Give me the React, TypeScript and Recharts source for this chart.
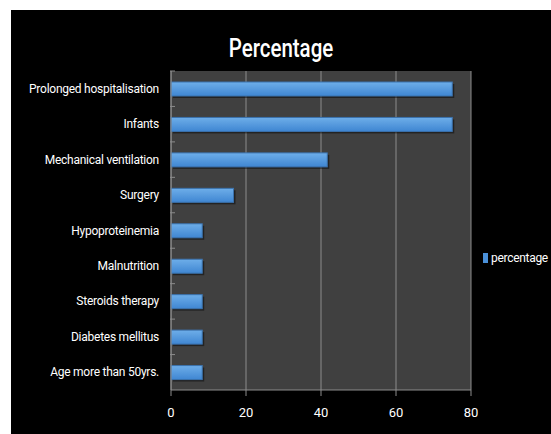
import { BarChart, Bar, XAxis, YAxis, CartesianGrid } from 'recharts';

const categories = [
  'Prolonged hospitalisation',
  'Infants',
  'Mechanical ventilation',
  'Surgery',
  'Hypoproteinemia',
  'Malnutrition',
  'Steroids therapy',
  'Diabetes mellitus',
  'Age more than 50yrs.',
];
const percentage = [75, 75, 41.67, 16.67, 8.33, 8.33, 8.33, 8.33, 8.33];
const xTicks = [0, 20, 40, 60, 80];

const data = categories.map((name, i) => ({ name, percentage: percentage[i] }));

const FONT = 'Roboto, "Liberation Sans Narrow", Arial, sans-serif';
const PLOT_H = 319;
const BAND = PLOT_H / categories.length;

const CatTick = (props: any) => {
  const { x, y, payload } = props;
  return (
    <g>
      <line x1={x + 7} x2={x + 12} y1={y - BAND / 2} y2={y - BAND / 2} stroke="#8c8c8c" />
      <text x={x - 4} y={y} dy={4} textAnchor="end" fill="#ffffff" fontSize={12} letterSpacing={-0.25} fontFamily={FONT}>
        {payload.value}
      </text>
    </g>
  );
};

const BarShape = (props: any) => {
  const { x, y, width, height } = props;
  return (
    <g>
      <rect x={x + 2} y={y + 2} width={width} height={height} fill="#000" opacity={0.45} />
      <rect x={x} y={y} width={width} height={height} fill="url(#barGrad)" stroke="#3b72ad" strokeWidth={1} />
    </g>
  );
};

export default function App() {
  return (
    <div style={{ position: 'fixed', left: 11, top: 10, width: 540, height: 424, background: '#000', overflow: 'hidden' }}>
      <div
        style={{
          position: 'absolute',
          top: 24,
          left: 0,
          width: 540,
          textAlign: 'center',
          color: '#fff',
          fontFamily: FONT,
          fontWeight: 500,
          fontSize: 25,
          transform: 'scaleX(0.82)',
        }}
      >
        Percentage
      </div>
      <div
        style={{
          position: 'absolute',
          top: 241,
          left: 472,
          display: 'flex',
          alignItems: 'center',
          color: '#fff',
          fontFamily: FONT,
          fontSize: 12,
          letterSpacing: -0.3,
          whiteSpace: 'nowrap',
        }}
      >
        <span style={{ display: 'inline-block', width: 5, height: 10, background: '#4a90d9', marginRight: 3 }} />
        percentage
      </div>
      <BarChart
        width={540}
        height={424}
        data={data}
        layout="vertical"
        margin={{ top: 61, right: 80, bottom: 14, left: 10 }}
        barSize={14}
      >
        <defs>
          <linearGradient id="barGrad" x1="0" y1="0" x2="0" y2="1">
            <stop offset="0%" stopColor="#6eaee9" />
            <stop offset="100%" stopColor="#3f86d2" />
          </linearGradient>
        </defs>
        <CartesianGrid horizontal={false} stroke="#8c8c8c" fill="#404040" />
        <XAxis
          type="number"
          domain={[0, 80]}
          ticks={xTicks}
          height={30}
          stroke="#8c8c8c"
          tickSize={6}
          tick={{ fill: '#ffffff', fontSize: 13, fontFamily: FONT, dy: 10 }}
        />
        <XAxis xAxisId="top" type="number" orientation="top" domain={[0, 80]} height={0} tick={false} tickLine={false} stroke="#8c8c8c" />
        <YAxis
          type="category"
          dataKey="name"
          width={150}
          stroke="#8c8c8c"
          tickLine={false}
          tick={<CatTick />}
          interval={0}
        />
        <Bar dataKey="percentage" shape={<BarShape />} isAnimationActive={false} />
      </BarChart>
    </div>
  );
}
